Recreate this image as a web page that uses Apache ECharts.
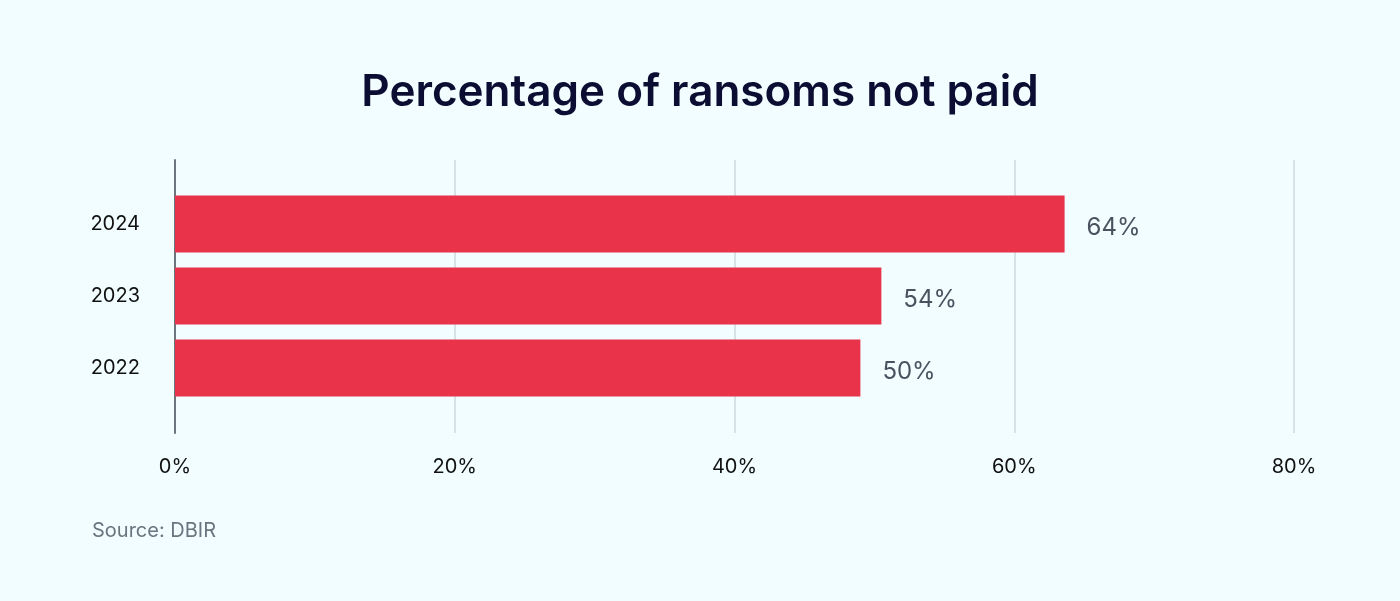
<!DOCTYPE html>
<html><head><meta charset="utf-8">
<script src="https://cdn.jsdelivr.net/npm/echarts@6/dist/echarts.min.js"></script>
<style>html,body{margin:0;background:#f1fdfe}#c{width:1400px;height:601px}</style>
</head><body><div id="c"></div>
<script>
var years = ["2022", "2023", "2024"];
// bar lengths as drawn in the picture
var values = [49, 50.5, 63.6];
// labels as printed on the picture
var labels = ["50%", "54%", "64%"];
var ticks = [0, 20, 40, 60, 80];

var chart = echarts.init(document.getElementById("c"));
chart.setOption({
  backgroundColor: "#f1fdfe",
  title: [{
    text: "Percentage of ransoms not paid", left: "center", top: 66,
    textStyle: { fontFamily: "Inter", fontSize: 44, fontWeight: 600, color: "#0b0d33" }
  }, {
    text: "Source: DBIR", left: 87, top: 516,
    textStyle: { fontFamily: "Inter", fontSize: 20, fontWeight: 400, color: "#6b7580" }
  }],
  grid: [
    { left: 175, right: 106, top: 160, bottom: 168 },
    { left: 175, right: 106, top: 188, bottom: 197 }
  ],
  xAxis: [{
    gridIndex: 0, type: "value", min: 0, max: 80, interval: 20,
    axisLine: { show: false }, axisTick: { show: false },
    splitLine: { lineStyle: { color: "#d5e2e6", width: 2 } },
    axisLabel: { formatter: "{value}%", margin: 24, fontFamily: "Inter", fontSize: 20, color: "#111" }
  }, {
    gridIndex: 1, type: "value", min: 0, max: 80, show: false
  }],
  yAxis: [{
    gridIndex: 0, type: "value", min: 0, max: 1,
    axisLine: { show: true, lineStyle: { color: "#6b7580", width: 2 } },
    axisTick: { show: false }, axisLabel: { show: false }, splitLine: { show: false }
  }, {
    gridIndex: 1, type: "category", data: years,
    axisLine: { show: false }, axisTick: { show: false },
    axisLabel: { margin: 35, fontFamily: "Inter", fontSize: 20, color: "#111" }
  }],
  series: [{
    type: "bar", xAxisIndex: 1, yAxisIndex: 1, barWidth: 57,
    data: values,
    itemStyle: { color: "#e8334a" },
    label: {
      show: true, position: "right", distance: 22,
      formatter: function (p) { return labels[p.dataIndex]; },
      fontFamily: "Inter", fontSize: 24, color: "#4a5260", offset: [0, 4]
    }
  }]
});
</script></body></html>
